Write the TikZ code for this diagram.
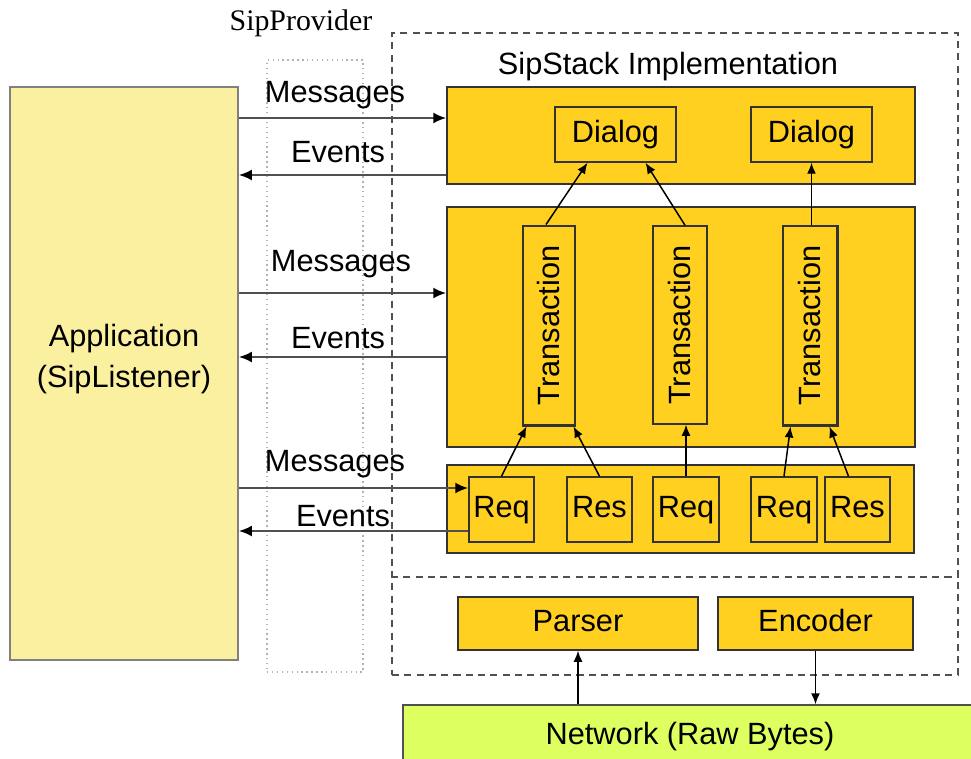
\documentclass[tikz,border=0pt]{standalone}
\usepackage{fontspec}
\setmainfont{Liberation Sans}
\newfontfamily\serifface{Liberation Serif}
\usetikzlibrary{arrows.meta,fit}
\definecolor{stackgold}{RGB}{255,208,32}
\definecolor{appyellow}{RGB}{250,240,160}
\definecolor{netgreen}{RGB}{222,255,96}
\definecolor{edgegray}{RGB}{80,80,80}
\newcommand{\px}{0.02cm}
\begin{document}
\begin{tikzpicture}[x=0.02cm,y=-0.02cm,
        font=\fontsize{17.5}{23.3}\selectfont,
        every label/.append style={text height=12.6pt,text depth=3.7pt},
        box/.style={draw=black!80,line width=0.85pt,fill=stackgold,inner sep=0pt},
        txbox/.style={box,line width=1.7pt},
        frame/.style={draw=edgegray,line width=1.1pt,dash pattern=on 4pt off 3pt,inner sep=0pt},
        flow/.style={draw=edgegray,line width=1.2pt,-{Latex[length=2.6mm,width=2.2mm,black]}},
        link/.style={draw=black,line width=0.85pt,-{Latex[length=2.2mm,width=1.8mm]}},
        lbl/.style={anchor=base,inner sep=0pt}]
    \useasboundingbox (0,0) rectangle (971,758);

    \node[draw=gray!60,dotted,line width=0.8pt,inner sep=0pt,fit={(267,60) (363,672)}] (provider) {};
    \node[lbl,font=\serifface\fontsize{17}{20}\selectfont] (providerlabel) at (301,30) {SipProvider};
    \node[frame,fit={(392,33) (958,675)}] (stack) {};
    \draw[frame] (stack.west |- 0,577) -- (stack.east |- 0,577);
    \node[lbl] (stacklabel) at (668,74) {SipStack Implementation};

    \node[draw=gray,line width=1pt,fill=appyellow,inner sep=0pt,fit={(10,87) (238,660)}] (app) {};
    \node[align=center] (applabel) at (124,359) {Application\\(SipListener)};

    \node[box,fit={(447,87) (915,184)}] (dlayer) {};
    \node[box,fit={(555,107) (676,162)},label=center:Dialog] (d1) {};
    \node[box,fit={(751,107) (872,162)},label=center:Dialog] (d2) {};

    \node[box,fit={(447,207) (915,447)}] (tlayer) {};
    \node[txbox,fit={(523,226) (575,425)},label={[text height=,text depth=]center:\rotatebox{90}{Transaction}}] (t1) {};
    \node[box,fit={(653,226) (707,424)},label={[text height=,text depth=]center:\rotatebox{90}{Transaction}}] (t2) {};
    \node[txbox,fit={(783,226) (837,425)},label={[text height=,text depth=]center:\rotatebox{90}{Transaction}}] (t3) {};

    \node[box,fit={(447,465) (914,553)}] (rlayer) {};
    \node[box,fit={(469,477) (534,542)},label=center:Req] (req1) {};
    \node[box,fit={(567,477) (632,542)},label=center:Res] (res1) {};
    \node[box,fit={(653,477) (719,542)},label=center:Req] (req2) {};
    \node[box,fit={(751,477) (817,542)},label=center:Req] (req3) {};
    \node[box,fit={(825,477) (890,542)},label=center:Res] (res3) {};

    \node[box,fit={(458,597) (698,650)},label=center:Parser] (parser) {};
    \node[box,fit={(718,597) (913,650)},label=center:Encoder] (encoder) {};
    \node[draw=edgegray,line width=0.85pt,fill=netgreen,inner sep=0pt,fit={(403,705) (1040,770)}] (network) {};
    \node (netlabel) at (690,737) {Network (Raw Bytes)};

    \draw[flow] (app.east |- 0,118) -- (dlayer.west |- 0,118);
    \draw[flow] (dlayer.west |- 0,175) -- (app.east |- 0,175);
    \draw[flow] (app.east |- 0,293) -- (tlayer.west |- 0,293);
    \draw[flow] (tlayer.west |- 0,357) -- (app.east |- 0,357);
    \draw[flow] (app.east |- 0,488) -- (req1.west |- 0,488);
    \draw[flow] (req1.west |- 0,531) -- (app.east |- 0,531);
    \node[lbl] (msg1) at (335,102) {Messages};
    \node[lbl] (evt1) at (338,162) {Events};
    \node[lbl] (msg2) at (341,271) {Messages};
    \node[lbl] (evt2) at (338,348) {Events};
    \node[lbl] (msg3) at (335,471) {Messages};
    \node[lbl] (evt3) at (343,526) {Events};

    \draw[link] (req1.north) -- ([xshift=5*\px]t1.south west);
    \draw[link] (res1.north) -- ([xshift=-3*\px]t1.south east);
    \draw[link] (req2.north) -- (req2.north |- t2.south);
    \draw[link] (req3.north) -- ([xshift=9*\px]t3.south west);
    \draw[link] ([xshift=-9*\px]res3.north) -- ([xshift=-9*\px]t3.south east);
    \draw[link] ([xshift=-3*\px]t1.north) -- ([xshift=-28*\px]d1.south);
    \draw[link] ([xshift=5*\px]t2.north) -- ([xshift=30*\px]d1.south);
    \draw[link] (d2.south |- t3.north) -- (d2.south);
    \draw[link] (parser.south |- network.north) -- (parser.south);
    \draw[link] (encoder.south) -- (encoder.south |- network.north);
\end{tikzpicture}
\end{document}
